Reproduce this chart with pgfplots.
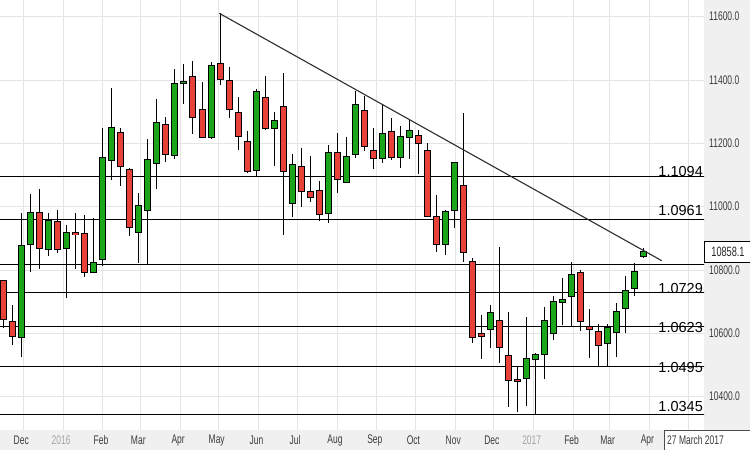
\documentclass[border=0pt]{standalone}
\usepackage{fontspec}
\setmainfont{Liberation Sans}
\newfontfamily\narrowfont[FakeStretch=0.68]{Liberation Sans}
\usepackage{pgfplots}
\usepackage{pgfplotstable}
\pgfplotsset{compat=1.18}

\definecolor{candlered}{RGB}{232,65,58}
\definecolor{candlegreen}{RGB}{26,165,26}
\definecolor{gridgrey}{RGB}{228,228,228}
\definecolor{panelgrey}{RGB}{240,240,240}
\definecolor{labelgrey}{RGB}{60,60,60}
\definecolor{yeargrey}{RGB}{165,165,165}
\definecolor{trendgrey}{RGB}{45,45,45}

% weekly candles, i = week number from 16 Nov 2015
\pgfplotstableread{
i o h l c
0 10765 10769 10616 10644
1 10637 10690 10563 10593
4 10981 11056 10802 10869
6 10951 10990 10853 10865
8 10916 10981 10803 10913
9 10913 10974 10779 10795
13 11232 11249 11065 11129
14 11116 11121 10908 10935
18 11257 11282 11140 11166
21 11411 11460 11230 11282
22 11305 11395 11216 11221
24 11450 11611 11384 11403
25 11397 11442 11279 11308
26 11297 11345 11179 11223
27 11205 11238 11106 11112
29 11342 11413 11242 11248
31 11316 11423 10911 11113
33 11124 11184 11000 11050
34 11046 11161 11016 11032
35 11050 11082 10955 10976
37 11169 11232 11044 11087
40 11302 11351 11177 11193
41 11176 11249 11119 11153
43 11235 11281 11147 11156
46 11224 11242 11102 11200
47 11176 11202 10968 10971
48 10967 11037 10856 10882
51 11065 11297 10826 10858
52 10824 10839 10569 10588
53 10597 10658 10518 10593
55 10640 10874 10507 10558
56 10529 10668 10367 10453
57 10454 10497 10353 10451
64 10792 10800 10608 10640
65 10619 10676 10521 10613
66 10605 10630 10495 10563
}\down

\pgfplotstableread{
i o h l c
2 10588 10979 10524 10877
3 10881 11040 10795 10981
5 10865 10981 10844 10956
7 10869 10942 10711 10916
10 10793 10963 10792 10823
11 10834 11249 10813 11153
12 11147 11374 11084 11249
15 10921 11042 10823 11002
16 10990 11215 10818 11147
17 11137 11339 11056 11263
19 11162 11435 11150 11387
20 11392 11451 11324 11395
23 11219 11456 11214 11444
28 11116 11371 11095 11363
30 11248 11300 11129 11272
32 11013 11166 10968 11131
36 10979 11195 10949 11169
38 11079 11219 11074 11158
39 11166 11365 11153 11320
42 11153 11323 11137 11229
44 11156 11255 11121 11221
45 11221 11277 11150 11239
49 10882 10990 10847 10984
50 10990 11141 10934 11139
54 10613 10690 10553 10663
58 10458 10653 10371 10518
59 10518 10538 10342 10532
60 10534 10684 10455 10640
61 10600 10719 10579 10700
62 10700 10774 10626 10704
63 10718 10826 10623 10784
67 10571 10630 10495 10618
68 10604 10695 10524 10668
69 10679 10781 10600 10735
70 10742 10821 10718 10795
71 10844 10869 10837 10858
}\up

\pgfplotsset{
  wick/.style={draw=none, mark=none, mark size=0pt,
    error bars/.cd, y dir=both, y explicit, error mark=none,
    error bar style={draw=black, line width=1bp}},
  body/.style 2 args={draw=none, mark=none, mark size=0pt,
    error bars/.cd, y dir=both, y explicit, error mark=none,
    error bar style={draw=#1, line width=#2}},
}

\newcommand\levelfont{\fontsize{14.5bp}{16bp}\selectfont}
\newcommand\tickfont{\narrowfont\fontsize{12.5bp}{14bp}\selectfont}

\begin{document}
\begin{tikzpicture}
\useasboundingbox (0,0) rectangle (750bp,450bp);
\fill[panelgrey] (704bp,0) rectangle (750bp,450bp);
\fill[panelgrey] (0,0) rectangle (704bp,20bp);
\begin{axis}[
    at={(0,20bp)}, anchor=south west,
    scale only axis, width=704bp, height=430bp,
    xmin=-0.444, xmax=77.778,
    ymin=10294.8, ymax=11652.7,
    clip mode=individual,
    axis line style={draw=none},
    major tick length=0pt,
    grid=major,
    major grid style={draw=gridgrey, line width=1bp},
    xtick={2.143,6.571,11,15.143,19.571,23.857,28.286,32.571,37,41.429,45.714,50.143,54.429,58.857,63.286,67.286,71.714,76},
    xticklabels={Dec,\textcolor{yeargrey}{2016},Feb,Mar,Apr,May,Jun,Jul,Aug,Sep,Oct,Nov,Dec,\textcolor{yeargrey}{2017},Feb,Mar,Apr,{}},
    xticklabel style={font=\tickfont, text=labelgrey, anchor=center, yshift=-10bp, xshift=-2bp},
    ytick={10400,10600,10800,11000,11200,11400,11600},
    yticklabels={10400.0,10600.0,10800.0,11000.0,11200.0,11400.0,11600.0},
    yticklabel pos=right,
    yticklabel style={font=\tickfont, text=labelgrey, anchor=west, inner sep=0pt, xshift=5bp},
]
% support / resistance levels
\addplot[black, line width=1bp] coordinates {(-1,11094) (80,11094)};
\addplot[black, line width=1bp] coordinates {(-1,10961) (80,10961)};
\addplot[black, line width=1bp] coordinates {(-1,10819) (80,10819)};
\addplot[black, line width=1bp] coordinates {(-1,10729) (80,10729)};
\addplot[black, line width=1bp] coordinates {(-1,10623) (80,10623)};
\addplot[black, line width=1bp] coordinates {(-1,10495) (80,10495)};
\addplot[black, line width=1bp] coordinates {(-1,10345) (80,10345)};

% wicks
\addplot[wick] table[x=i, y expr=(\thisrow{h}+\thisrow{l})/2, y error expr=(\thisrow{h}-\thisrow{l})/2] {\down};
\addplot[wick] table[x=i, y expr=(\thisrow{h}+\thisrow{l})/2, y error expr=(\thisrow{h}-\thisrow{l})/2] {\up};
% bodies: black outline, then colour
\addplot[body={black}{7bp}] table[x=i, y expr=(\thisrow{o}+\thisrow{c})/2, y error expr=abs(\thisrow{c}-\thisrow{o})/2+3.16] {\down};
\addplot[body={black}{7bp}] table[x=i, y expr=(\thisrow{o}+\thisrow{c})/2, y error expr=abs(\thisrow{c}-\thisrow{o})/2+3.16] {\up};
\addplot[body={candlered}{5bp}] table[x=i, y expr=(\thisrow{o}+\thisrow{c})/2, y error expr=abs(\thisrow{c}-\thisrow{o})/2] {\down};
\addplot[body={candlegreen}{5bp}] table[x=i, y expr=(\thisrow{o}+\thisrow{c})/2, y error expr=abs(\thisrow{c}-\thisrow{o})/2] {\up};

% trend line
\addplot[trendgrey, line width=1.1bp] coordinates {(23.92,11610.7) (73.08,10829.4)};

% level labels
\node[anchor=east, inner sep=0pt, font=\levelfont] at (axis cs:77.67,11110.5) {1.1094};
\node[anchor=east, inner sep=0pt, font=\levelfont] at (axis cs:77.67,10988) {1.0961};
\node[anchor=east, inner sep=0pt, font=\levelfont] at (axis cs:77.67,10741) {1.0729};
\node[anchor=east, inner sep=0pt, font=\levelfont] at (axis cs:77.67,10617) {1.0623};
\node[anchor=east, inner sep=0pt, font=\levelfont] at (axis cs:77.67,10493.7) {1.0495};
\node[anchor=east, inner sep=0pt, font=\levelfont] at (axis cs:77.67,10368.3) {1.0345};

% last price box
\node[draw=black, line width=1bp, fill=white, anchor=west, inner sep=0pt,
      minimum width=47bp, minimum height=21bp, font=\narrowfont\fontsize{13.5bp}{15bp}\selectfont,
      text=black!85] at (axis cs:77.778,10858.1) {10858.1};
\end{axis}
\draw[draw=black!70, fill=white, line width=1bp] (664.5bp,-1bp) rectangle (751bp,19.5bp);
\node[anchor=west, inner sep=0pt, font=\tickfont, text=labelgrey] at (667bp,9.5bp) {27 March 2017};
\end{tikzpicture}
\end{document}
